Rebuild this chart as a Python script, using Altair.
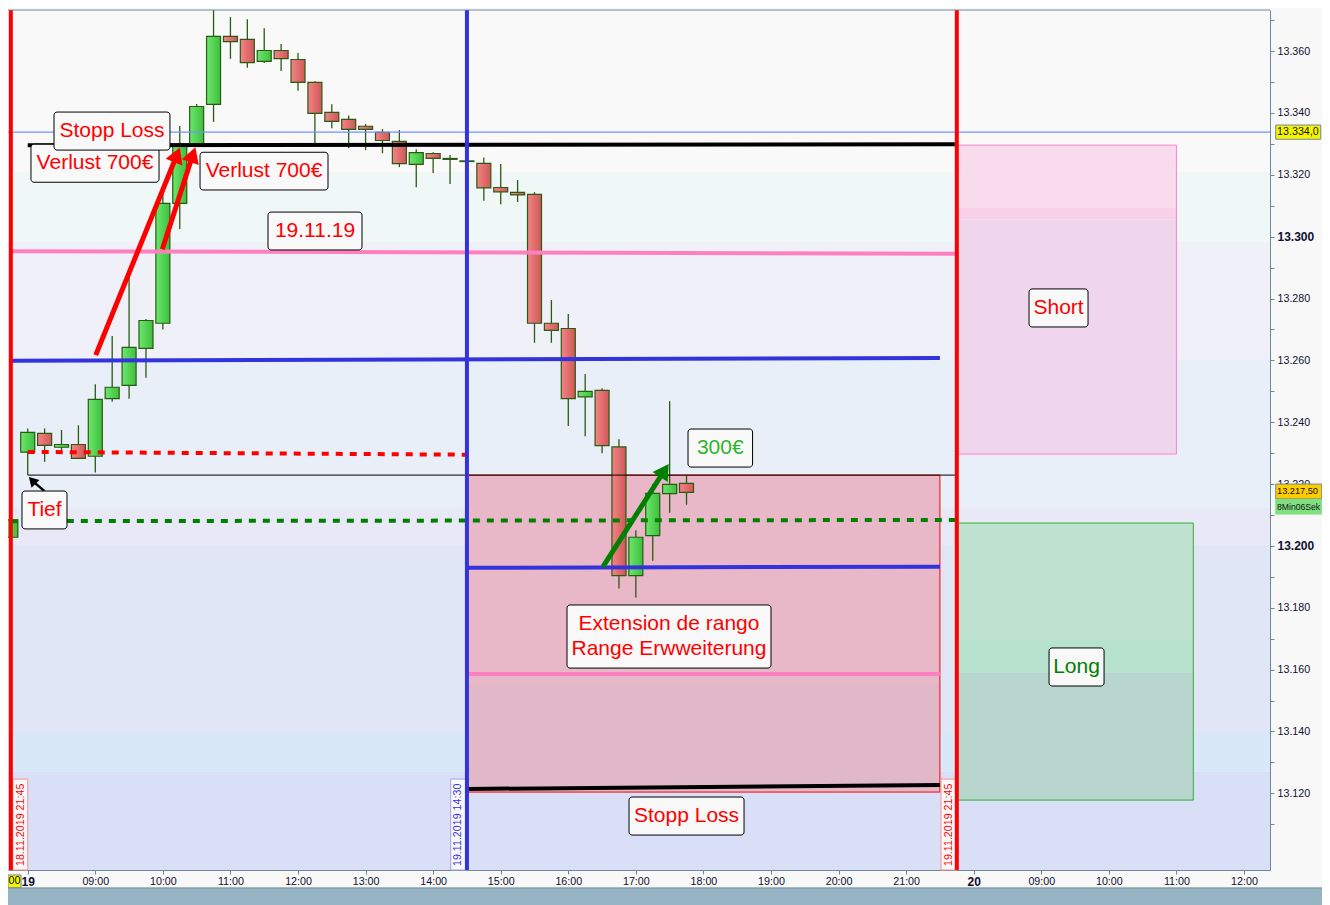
import altair as alt

# ---- candles: time in chart hours (15 min bars) and prices ----
BAR_H = [7.75, 8.0, 8.25, 8.5, 8.75, 9.0, 9.25, 9.5, 9.75, 10.0, 10.25, 10.5, 10.75,
         11.0, 11.25, 11.5, 11.75, 12.0, 12.25, 12.5, 12.75, 13.0, 13.25, 13.5, 13.75,
         14.0, 14.25, 14.5, 14.75, 15.0, 15.25, 15.5, 15.75, 16.0, 16.25, 16.5, 16.75,
         17.0, 17.25, 17.5, 17.75]
BAR_O = [13202.8, 13230.3, 13236.4, 13231.9, 13232.8, 13229.0, 13247.6, 13251.9, 13263.9,
         13272.0, 13310.8, 13329.6, 13342.8, 13364.75, 13363.8, 13356.7, 13360.2, 13357.3,
         13349.9, 13340.2, 13337.9, 13335.7, 13333.7, 13330.8, 13323.4, 13326.9, 13325.3,
         13324.5, 13323.7, 13315.9, 13314.3, 13313.7, 13272.0, 13270.3, 13248.2, 13250.3,
         13232.0, 13190.4, 13203.3, 13216.9, 13220.2]
BAR_C = [13208.4, 13236.7, 13232.5, 13232.8, 13228.3, 13247.4, 13251.3, 13264.2, 13272.9,
         13310.8, 13329.6, 13342.1, 13364.75, 13363.1, 13356.3, 13360.2, 13357.6, 13349.9,
         13339.9, 13337.3, 13334.7, 13334.7, 13331.1, 13323.6, 13327.2, 13325.3, 13325.0,
         13324.3, 13315.8, 13314.5, 13313.5, 13272.0, 13269.7, 13247.6, 13250.0, 13232.4,
         13190.4, 13202.8, 13217.0, 13219.9, 13217.3]
BAR_HI = [13208.4, 13238.0, 13238.0, 13237.5, 13239.0, 13252.3, 13267.9, 13287.6, 13273.4,
          13314.0, 13335.8, 13342.9, 13373.3, 13371.0, 13370.3, 13367.4, 13362.3, 13359.4,
          13350.3, 13342.8, 13339.2, 13336.4, 13334.8, 13334.5, 13328.3, 13327.3, 13326.4,
          13324.5, 13325.6, 13323.5, 13318.3, 13314.4, 13279.5, 13275.0, 13255.6, 13251.0,
          13234.5, 13205.1, 13220.0, 13246.8, 13222.7]
BAR_LO = [13202.8, 13222.9, 13227.2, 13230.5, 13228.3, 13223.7, 13246.6, 13247.6, 13254.4,
          13270.0, 13302.5, 13329.6, 13337.1, 13357.5, 13354.6, 13356.2, 13353.6, 13347.2,
          13329.6, 13335.1, 13328.6, 13328.0, 13327.0, 13322.5, 13316.0, 13320.6, 13317.0,
          13324.3, 13311.6, 13310.5, 13311.2, 13265.7, 13265.7, 13238.8, 13235.5, 13230.0,
          13186.2, 13183.3, 13195.2, 13210.7, 13213.3]

# ---- background bands ----
BAND_EDGES = [13373.3, 13320.7, 13298.3, 13260.4, 13212.5, 13200.3, 13139.9, 13127.0, 13095.2]
BAND_FILL = ["#F9F9F9", "#F0F8F7", "#F0F0F9", "#E8EFF8", "#E9E8F6", "#E0E6F6", "#D8E8F8", "#D8DFF7"]

# ---- trade boxes ----
SHORT_X = [21.75, 25.0]
SHORT_EDGES = [13329.6, 13309.3, 13305.6, 13229.7]
SHORT_FILL = ["#F8DCEE", "#F8D0E8", "#F0D6EC"]
LONG_X = [21.75, 25.25]
LONG_EDGES = [13207.4, 13169.8, 13158.9, 13117.8]
LONG_FILL = ["#C0E2D0", "#B6E2CE", "#B8D6CE"]
RANGE_X = [14.5, 21.5]
RANGE_EDGES = [13222.9, 13155.0, 13120.4]
RANGE_FILL = ["#E8B8C8", "#E0B8C8"]

# ---- annotation labels ----
NOTE_TEXT = ["Verlust 700€", "Stopp Loss", "Verlust 700€", "19.11.19", "Tief", "300€",
             "Short", "Long", "Stopp Loss"]
NOTE_X1 = [8.048, 8.389, 10.55, 11.556, 7.915, 17.772, 22.819, 23.115, 16.899]
NOTE_X2 = [9.943, 10.105, 12.444, 12.947, 8.581, 18.727, 23.692, 23.929, 18.601]
NOTE_Y1 = [13329.9, 13340.3, 13327.3, 13307.95, 13217.75, 13237.8, 13283.1, 13167.0, 13118.8]
NOTE_Y2 = [13317.6, 13328.0, 13315.1, 13295.7, 13205.5, 13225.5, 13270.8, 13154.7, 13106.5]
NOTE_COLOR = ["#FF0000", "#FF0000", "#FF0000", "#FF0000", "#FF0000", "#2DB52D", "#FF0000", "#008000", "#FF0000"]
EXT_BOX = (15.981, 19.0, 13180.9, 13160.5)
EXT_LINES = ["Extension de rango", "Range Erwweiterung"]
EXT_Y = [13174.7, 13166.7]
EXT_X = 17.49

# ---- drawn lines: x0, x1, y0, y1 ----
V_TIMES = [7.75, 14.5, 21.75]
TOP_BLACK = (8.0, 21.75, 13329.6, 13329.9)
LOW_BLACK = (14.5, 21.5, 13121.4, 13122.7)
THIN_BLACK = (8.0, 21.75, 13222.9, 13222.9)
PINK_UP = (7.75, 21.75, 13295.3, 13294.5)
PINK_LOW = (14.5, 21.5, 13158.6, 13158.6)
BLUE_UP = (7.75, 21.5, 13259.9, 13260.75)
BLUE_LOW = (14.5, 21.5, 13192.9, 13193.3)
RED_DASH = (8.0, 14.5, 13230.4, 13229.5)
GREEN_DASH = (7.75, 21.75, 13208.0, 13208.4)
CROSS = 13333.8

# ---- arrows: start x, end x, start y, end y, head angle ----
ARROW_RED1 = (9.006, 10.194, 13261.7, 13325.7, 22)
ARROW_RED2 = (9.992, 10.431, 13295.9, 13325.7, 19)
ARROW_GREEN = (16.514, 17.402, 13193.3, 13223.7, 33)
ARROW_BLACK = (8.245, 8.082, 13217.8, 13220.8, 316)

# ---- date flags ----
FLAG_TEXT = ["18.11.2019 21:45", "19.11.2019 14:30", "19.11.2019 21:45"]
FLAG_X1 = [7.78, 14.26, 21.516]
FLAG_X2 = [8.0, 14.5, 21.75]
FLAG_XC = [7.893, 14.368, 21.635]
FLAG_TOP = 13124.6
FLAG_YC = 13109.8

# ---- price tags ----
TAG_TEXT = ["13.334,0", "13.217,50", "8Min06Sek"]
TAG_X1 = [26.47, 26.47, 26.47]
TAG_X2 = [27.136, 27.15, 27.15]
TAG_Y1 = [13336.1, 13220.0, 13215.0]
TAG_Y2 = [13331.5, 13215.2, 13210.3]
TAG_YC = [13334.0, 13217.6, 13212.6]
TAG_XT = 26.49

X_DOMAIN = [7.708, 26.385]
Y_DOMAIN = [13095.2, 13373.3]
X_TICKS = list(range(8, 27))
Y_TICKS = list(range(13110, 13371, 10))

AXIS_C = "#6E8A99"
FONT = "Liberation Sans"

xs = alt.Scale(domain=X_DOMAIN, nice=False, zero=False, padding=0)
ys = alt.Scale(domain=Y_DOMAIN, nice=False, zero=False, padding=0)

x_label = ("datum.value==8?'19':datum.value==22?'20':"
           "format(datum.value>22?datum.value-14:datum.value,'02d')+':00'")
y_str = "format(datum.value,'d')"
y_label = f"datum.value%20==0?slice({y_str},0,2)+'.'+slice({y_str},2):''"
X_AXIS = alt.Axis(
    title=None, orient="bottom", values=X_TICKS, labelExpr=x_label, grid=False,
    domainColor=AXIS_C, tickColor=AXIS_C, tickSize=4, labelPadding=2, labelColor="#101030",
    labelFont=FONT, labelFontSize={"expr": "datum.value==8||datum.value==22?12:10.7"},
    labelFontWeight={"expr": "datum.value==8||datum.value==22?'bold':'normal'"},
    labelOverlap=False, labelBound=False, labelFlush=False)
Y_AXIS = alt.Axis(
    title=None, orient="right", values=Y_TICKS, labelExpr=y_label, grid=False,
    domainColor=AXIS_C, tickColor=AXIS_C, tickSize=4, labelPadding=3, labelColor="#101030",
    labelFont=FONT, labelFontSize={"expr": "datum.value%100==0?12:10.7"},
    labelFontWeight={"expr": "datum.value%100==0?'bold':'normal'"},
    labelOverlap=False, labelBound=False)
XE = alt.X("x:Q", scale=xs, axis=X_AXIS)
YE = alt.Y("y:Q", scale=ys, axis=Y_AXIS)


def box(x1, x2, y1, y2, **mark):
    return alt.Chart(alt.Data(values=[{"x": x1, "x2": x2, "y": y1, "y2": y2}])).mark_rect(**mark).encode(
        x=XE, x2=alt.X2("x2:Q"), y=YE, y2=alt.Y2("y2:Q"))


def seg(s, color, width, **mark):
    x0, x1, y0, y1 = s[:4]
    return alt.Chart(alt.Data(values=[{"x": x0, "x2": x1, "y": y0, "y2": y1}])).mark_rule(
        color=color, strokeWidth=width, **mark).encode(
        x=XE, x2=alt.X2("x2:Q"), y=YE, y2=alt.Y2("y2:Q"))


def label(x, y, text, color, size=21, align="center", **mark):
    return alt.Chart(alt.Data(values=[{"x": x, "y": y, "t": text}])).mark_text(
        color=color, fontSize=size, font=FONT, align=align, baseline="middle", **mark).encode(
        x=XE, y=YE, text="t:N")


def arrow(a, color, width, size):
    x0, x1, y0, y1, ang = a
    head = alt.Chart(alt.Data(values=[{"x": x1, "y": y1}])).mark_point(
        shape="triangle", filled=True, color=color, opacity=1, size=size, angle=ang).encode(x=XE, y=YE)
    return [seg(a, color, width), head]


layers = []

for i in range(len(BAND_FILL)):
    layers.append(box(X_DOMAIN[0], X_DOMAIN[1], BAND_EDGES[i], BAND_EDGES[i + 1], color=BAND_FILL[i]))

# trade boxes
for xr, edges, fills, border in [(SHORT_X, SHORT_EDGES, SHORT_FILL, "#FF80C8"),
                                 (LONG_X, LONG_EDGES, LONG_FILL, "#30B030"),
                                 (RANGE_X, RANGE_EDGES, RANGE_FILL, "#FF0000")]:
    for i, f in enumerate(fills):
        layers.append(box(xr[0], xr[1], edges[i], edges[i + 1], color=f))
    layers.append(box(xr[0], xr[1], edges[0], edges[-1], fillOpacity=0, stroke=border, strokeWidth=1))

# date flags
for i, border in enumerate(["#FF9090", "#A0A0E8", "#FF9090"]):
    layers.append(box(FLAG_X1[i], FLAG_X2[i], FLAG_TOP, Y_DOMAIN[0], color="#F9F9F9", stroke=border, strokeWidth=1))
    layers.append(label(FLAG_XC[i], FLAG_YC, FLAG_TEXT[i], "#3333DD" if i == 1 else "#FF0000", size=10.7, angle=270))

# candles
candles = [{"x": h, "o": o, "c": c, "hi": hi, "lo": lo, "top": max(o, c), "bot": min(o, c), "up": c >= o}
           for h, o, c, hi, lo in zip(BAR_H, BAR_O, BAR_C, BAR_HI, BAR_LO)]
DARK = "#2A5A12"
layers.append(alt.Chart(alt.Data(values=candles)).mark_rule(color=DARK, strokeWidth=1.3, clip=True).encode(
    x=XE, y=alt.Y("hi:Q", scale=ys, axis=Y_AXIS), y2=alt.Y2("lo:Q")))
grad_up = alt.LinearGradient(gradient="linear", x1=0, x2=1, y1=0, y2=0, stops=[
    alt.GradientStop(color="#6CE86C", offset=0), alt.GradientStop(color="#3EBE3E", offset=1)])
grad_dn = alt.LinearGradient(gradient="linear", x1=0, x2=1, y1=0, y2=0, stops=[
    alt.GradientStop(color="#F48484", offset=0), alt.GradientStop(color="#CE5858", offset=1)])
for flag, g in [(True, grad_up), (False, grad_dn)]:
    rows = [r for r in candles if r["up"] == flag]
    layers.append(alt.Chart(alt.Data(values=rows)).mark_bar(
        size=14, fill=g, stroke=DARK, strokeWidth=1.2, clip=True).encode(
        x=XE, y=alt.Y("top:Q", scale=ys, axis=Y_AXIS), y2=alt.Y2("bot:Q")))

# drawn lines
layers.append(seg(THIN_BLACK, "#000000", 1))
layers.append(seg((X_DOMAIN[0], X_DOMAIN[1], CROSS, CROSS), "#6F93FF", 1.2))
layers.append(seg(TOP_BLACK, "#000000", 4))
layers.append(seg(PINK_UP, "#FF80C0", 4))
layers.append(seg(PINK_LOW, "#FF80C0", 4))
layers.append(seg(BLUE_UP, "#3333DD", 4))
layers.append(seg(BLUE_LOW, "#3333DD", 4))
layers.append(seg(RED_DASH, "#FF0000", 4, strokeDash=[7, 7]))
layers.append(seg(GREEN_DASH, "#008000", 4, strokeDash=[7, 7]))
layers.append(seg(LOW_BLACK, "#000000", 4))
for t, c in zip(V_TIMES, ["#FF0000", "#3333DD", "#FF0000"]):
    layers.append(seg((t, t, Y_DOMAIN[0], Y_DOMAIN[1]), c, 4))
layers += arrow(ARROW_RED1, "#FF0000", 5, 324)
layers += arrow(ARROW_RED2, "#FF0000", 5, 324)
layers += arrow(ARROW_GREEN, "#008000", 5, 324)
layers += arrow(ARROW_BLACK, "#000000", 2.5, 121)

# top border
layers.append(seg((X_DOMAIN[0], X_DOMAIN[1], Y_DOMAIN[1], Y_DOMAIN[1]), AXIS_C, 1))

# notes
for i, t in enumerate(NOTE_TEXT):
    layers.append(box(NOTE_X1[i], NOTE_X2[i], NOTE_Y1[i], NOTE_Y2[i], color="#F9F9F9", stroke="#000000",
                      strokeWidth=1, cornerRadius=3))
    layers.append(label((NOTE_X1[i] + NOTE_X2[i]) / 2, (NOTE_Y1[i] + NOTE_Y2[i]) / 2, t, NOTE_COLOR[i]))
layers.append(box(EXT_BOX[0], EXT_BOX[1], EXT_BOX[2], EXT_BOX[3], color="#F9F9F9", stroke="#000000",
                  strokeWidth=1, cornerRadius=3))
for t, y in zip(EXT_LINES, EXT_Y):
    layers.append(label(EXT_X, y, t, "#FF0000"))

# price tags
for i, (t, f) in enumerate(zip(TAG_TEXT, ["#F5F500", "#FFCC00", "#80E080"])):
    layers.append(box(TAG_X1[i], TAG_X2[i], TAG_Y1[i], TAG_Y2[i], color=f,
                      stroke=AXIS_C if i < 2 else f, strokeWidth=1))
    layers.append(label(TAG_XT, TAG_YC[i], t, "#101010", size=[10.7, 9.2, 8.6][i], align="left"))

# date tag on the time axis and the bottom strip
layers.append(box(7.708, 7.9, 13093.6, 13089.4, color="#F5F500", stroke=AXIS_C, strokeWidth=1))
layers.append(label(7.805, 13091.5, "00", "#101010", size=10.7))
layers.append(box(X_DOMAIN[0], 27.3, 13089.4, 13083.9, color="#97B4C5"))
layers.append(seg((X_DOMAIN[0], 27.3, 13089.4, 13089.4), AXIS_C, 1))

chart = alt.layer(*layers).properties(
    width=1262, height=860,
    padding={"left": 0, "top": 2, "right": 52, "bottom": 35},
    autosize=alt.AutoSizeParams(type="none"),
    background="#F8F8F8",
).configure_view(stroke=None)

chart.save("out.html", embed_options={"renderer": "svg", "actions": False})
